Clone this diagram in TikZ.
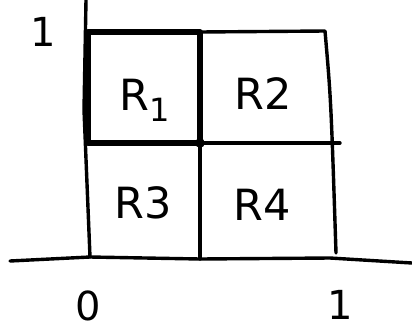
\documentclass[tikz,border=0pt]{standalone}
\usepackage{fontspec}
\setsansfont{DejaVu Sans}
\begin{document}
\begin{tikzpicture}[x=1pt,y=-1pt,line cap=round,line join=round,
  ln/.style={line width=3.4pt},
  bd/.style={line width=5.6pt},
  lab/.style={font=\fontsize{43}{43}\selectfont\sffamily,inner sep=0pt,text depth=0pt},
  axl/.style={font=\fontsize{40}{40}\selectfont\sffamily,inner sep=0pt,text depth=0pt}]
\useasboundingbox (0,0) rectangle (412,330);
% key points
\coordinate (ytop) at (86,0);
\coordinate (o) at (90,257);
\coordinate (xl) at (10,261);
\coordinate (xr) at (412,263);
\coordinate (tl) at (88,32);
\coordinate (tm) at (200,32);
\coordinate (tr) at (325,31);
\coordinate (ml) at (88,143);
\coordinate (mm) at (200,143);
\coordinate (mr) at (340,143);
\coordinate (bm) at (200,259);
\coordinate (br) at (336,253);
% axes
\draw[ln] (ytop) -- (84,110) -- (o);
\draw[ln] (xl) -- (o) -- (bm) -- (330,258) -- (xr);
% square
\draw[ln] (tm) -- (tr) .. controls (331,100) .. (br);
\draw[ln] (tm) -- (bm);
\draw[ln] (mm) -- (mr);
\draw[bd] (tl) -- (tm) -- (mm) -- (ml) -- cycle;
\fill (mm) circle (4.8pt);
% labels
\node[lab] (r1) at (145,95) {R\raisebox{-0.25em}{\fontsize{32}{32}\selectfont 1}};
\node[lab] (r2) at (263,94) {R2};
\node[lab] (r3) at (143,203) {R3};
\node[lab] (r4) at (262,205) {R4};
\node[axl] (y1) at (43,32) {1};
\node[axl] (x0) at (88,306) {0};
\node[axl] (x1) at (340,305) {1};
\end{tikzpicture}
\end{document}
